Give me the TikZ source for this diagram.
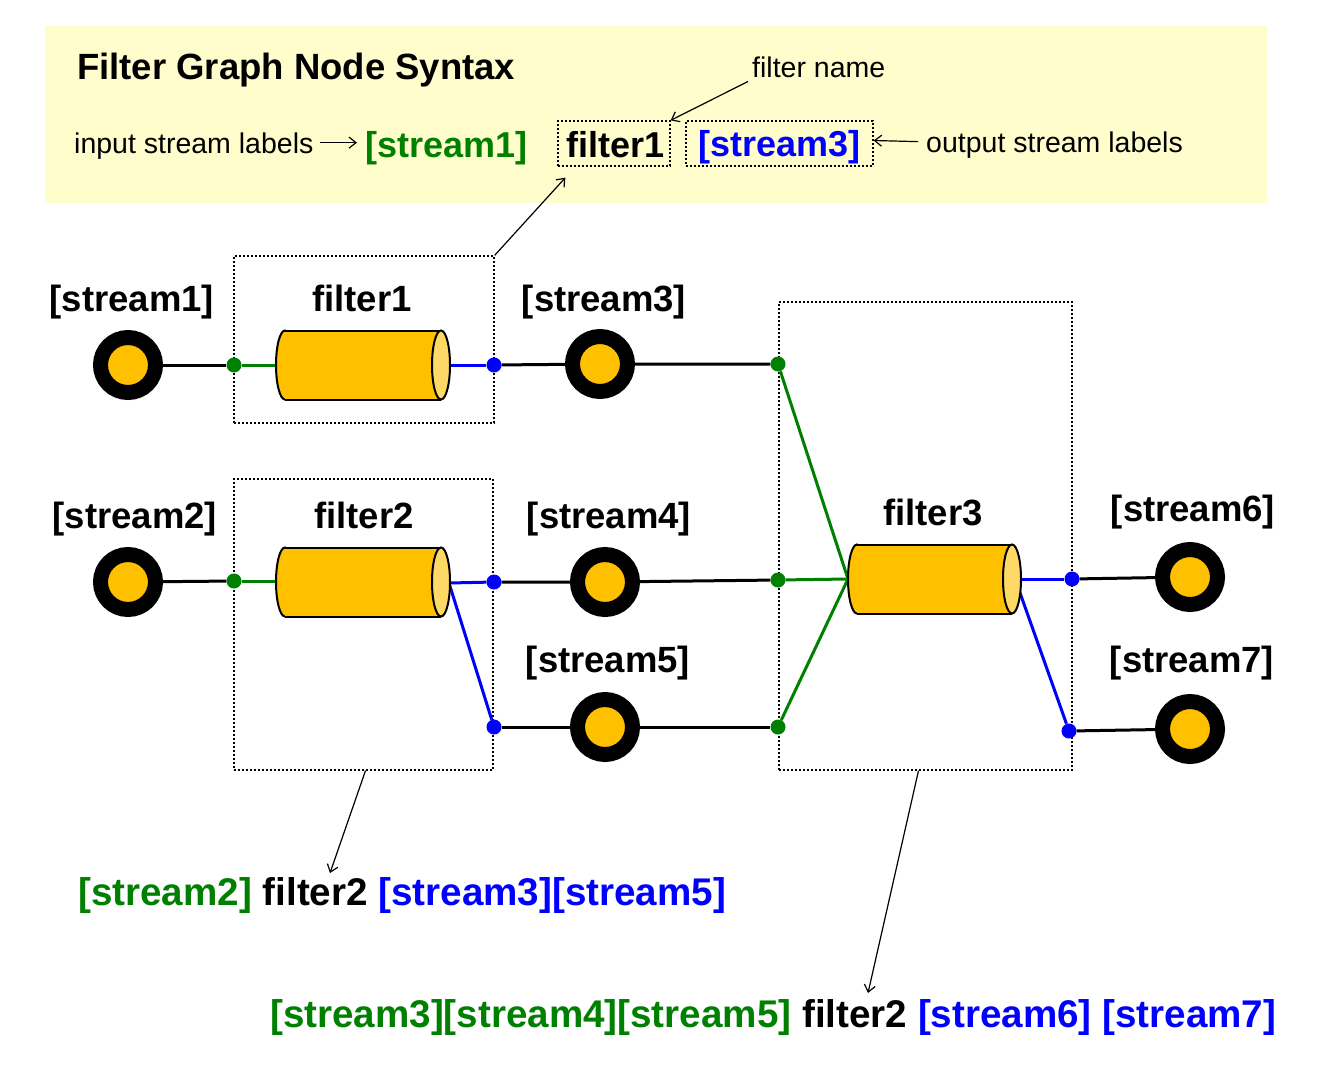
\documentclass[tikz,border=0pt]{standalone}
\usepackage{fontspec}
\setmainfont{Liberation Sans}
\usetikzlibrary{arrows.meta}
\definecolor{gold}{RGB}{255,192,0}
\definecolor{lgold}{RGB}{255,217,102}
\definecolor{grn}{RGB}{0,128,0}
\definecolor{blu}{RGB}{0,0,255}
\definecolor{pale}{RGB}{255,253,204}
\newcommand\fcyl[3]{% left x, ellipse centre x, centre y
  \fill[gold,draw=black,line width=2pt] (#1+9,#3) ellipse[x radius=9,y radius=34.5];
  \fill[gold] (#1+9,#3-34.5) rectangle (#2,#3+34.5);
  \draw[line width=2pt] (#1+9,#3-34.5) -- (#2,#3-34.5) (#1+9,#3+34.5) -- (#2,#3+34.5);
  \filldraw[fill=lgold,line width=2pt] (#2,#3) ellipse[x radius=9,y radius=34.5];
}
\begin{document}
\begin{tikzpicture}[x=1pt,y=-1pt,
  src/.style={circle,fill=gold,draw=black,line width=15pt,minimum size=55pt,inner sep=0pt},
  gdot/.style={circle,fill=grn,inner sep=0pt,minimum size=15pt},
  bdot/.style={circle,fill=blu,inner sep=0pt,minimum size=15pt},
  lb/.style={font=\bfseries\fontsize{36.5}{40}\selectfont,inner sep=0pt,anchor=base},
  hb/.style={font=\bfseries\fontsize{36}{40}\selectfont,inner sep=0pt,anchor=base},
  reg/.style={font=\fontsize{28.5}{32}\selectfont,inner sep=0pt,anchor=base west},
  bt/.style={font=\bfseries\fontsize{38.6}{42}\selectfont,inner sep=0pt,anchor=base west},
  dbox/.style={draw=black,line width=1.3pt,dash pattern=on 2pt off 2pt,inner sep=0pt},
  wire/.style={line width=3pt},
  arr/.style={line width=1.2pt,-{Straight Barb[length=7pt,width=11pt]}}]
\useasboundingbox (0,0) rectangle (1325,1072);
% header panel
\fill[pale] (45,26) rectangle (1267,203);
\node[anchor=base west,inner sep=0pt,font=\bfseries\fontsize{36.5}{40}\selectfont] (title) at (77,79) {Filter Graph Node Syntax};
\node[reg] (inl) at (74,153) {input stream labels};
\node[hb,anchor=base west,text=grn] (hs1) at (365,157) {[stream1]};
\node[dbox,minimum width=112pt,minimum height=45pt] (bxf1) at (614,143.5) {};
\node[hb] (hf1) at (615.5,157) {filter1};
\node[dbox,minimum width=187pt,minimum height=45pt] (bxs3) at (779.5,143.5) {};
\node[hb,text=blu] (hs3) at (779.5,156) {[stream3]};
\node[reg] (outl) at (926,152) {output stream labels};
\node[reg] (fname) at (752,77) {filter name};
\draw[arr] ([xshift=6pt,yshift=3pt]inl.east) -- ([xshift=-8pt,yshift=3pt]inl.east -| hs1.west);
\draw[arr] ([xshift=-8pt,yshift=3pt]outl.west) -- ([yshift=3pt]bxs3.east);
\draw[arr] ([xshift=-4pt,yshift=-4pt]fname.south west) -- (bxf1.north east);
% filter boxes
\node[dbox,minimum width=260pt,minimum height=167pt] (fb1) at (364,339.5) {};
\node[dbox,minimum width=259pt,minimum height=291pt] (fb2) at (363.5,624.5) {};
\node[dbox,minimum width=293pt,minimum height=468pt] (fb3) at (925.5,536) {};
\draw[arr] (fb1.north east) -- ([xshift=8pt,yshift=-11pt]bxf1.south west);
% labels
\node[lb] (l1) at (132,311) {[stream1]};
\node[lb] (l2) at (135,528) {[stream2]};
\node[lb] (l3) at (604,311) {[stream3]};
\node[lb] (l4) at (609,528) {[stream4]};
\node[lb] (l5) at (608,672) {[stream5]};
\node[lb] (l6) at (1193,521) {[stream6]};
\node[lb] (l7) at (1192,672) {[stream7]};
\node[lb] (lf1) at (362,311) {filter1};
\node[lb] (lf2) at (364,528) {filter2};
\node[lb] (lf3) at (933,525) {filter3};
% sources
\node[src] (s1) at (128,365) {};
\node[src] (s2) at (128,582) {};
\node[src] (s3) at (600,364) {};
\node[src] (s4) at (605,582) {};
\node[src] (s5) at (605,727) {};
\node[src] (s6) at (1190,577) {};
\node[src] (s7) at (1190,729) {};
% dots
\node[gdot] (g1) at (234,365) {};
\node[bdot] (b1) at (494,365) {};
\node[gdot] (g2) at (234,581) {};
\node[bdot] (b2a) at (494,582) {};
\node[bdot] (b2b) at (494,727) {};
\node[gdot] (g3a) at (778,364) {};
\node[gdot] (g3b) at (778,580) {};
\node[gdot] (g3c) at (778,727) {};
\node[bdot] (b3a) at (1072,579) {};
\node[bdot] (b3b) at (1069,731) {};
% cylinder ports
\coordinate (f1in) at (276,365);
\coordinate (f1out) at (449,365);
\coordinate (f2in) at (276,581);
\coordinate (f2out) at (449,583);
\coordinate (f3in) at (848,579);
\coordinate (f3out) at (1020,579);
\coordinate (f3outb) at (1019,590);
% wires
\draw[wire] (s1) -- (g1);
\draw[wire,grn] (g1) -- (f1in);
\draw[wire,blu] (f1out) -- (b1);
\draw[wire] (b1) -- (s3) -- (g3a);
\draw[wire] (s2) -- (g2);
\draw[wire,grn] (g2) -- (f2in);
\draw[wire,blu] (f2out) -- (b2a);
\draw[wire,blu] (f2out) -- (b2b);
\draw[wire] (b2a) -- (s4) -- (g3b);
\draw[wire] (b2b) -- (s5) -- (g3c);
\draw[wire,grn] (g3a) -- (f3in);
\draw[wire,grn] (g3b) -- (f3in);
\draw[wire,grn] (g3c) -- (f3in);
\draw[wire,blu] (f3out) -- (b3a);
\draw[wire,blu] (f3outb) -- (b3b);
\draw[wire] (b3a) -- (s6);
\draw[wire] (b3b) -- (s7);
% cylinders
\fcyl{276}{441}{365}
\fcyl{276}{441}{582}
\fcyl{848}{1012}{579}
% bottom syntax lines
\node[bt] (code1) at (78,905) {\textcolor{grn}{[stream2]} filter2 \textcolor{blu}{[stream3][stream5]}};
\node[bt] (code2) at (270,1027) {\textcolor{grn}{[stream3][stream4][stream5]} filter2 \textcolor{blu}{[stream6] [stream7]}};
\coordinate (t1) at (330,873);
\coordinate (t2) at (868,993);
\draw[arr] ([xshift=2pt]fb2.south) -- (t1);
\draw[arr] ([xshift=-7pt]fb3.south) -- (t2);
\end{tikzpicture}
\end{document}
